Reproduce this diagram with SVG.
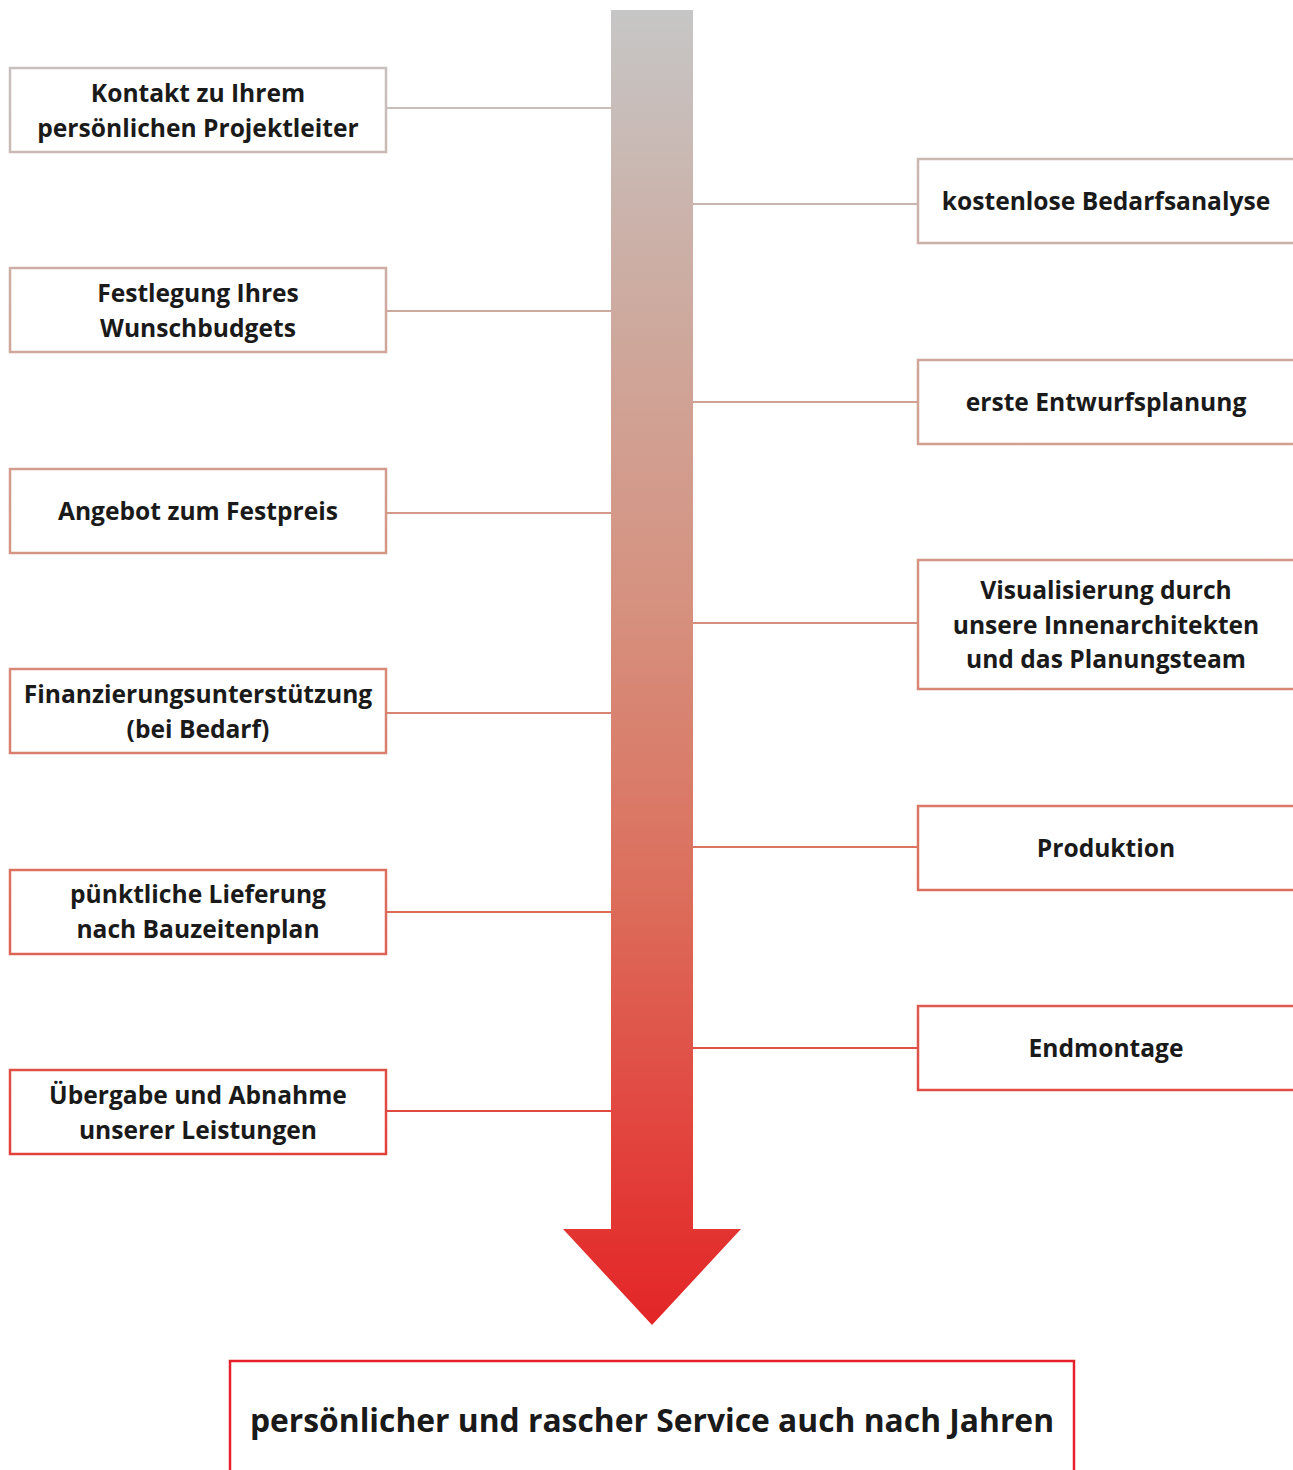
<svg xmlns="http://www.w3.org/2000/svg" width="1293" height="1470" viewBox="0 0 1293 1470">
<defs>
<linearGradient id="g" gradientUnits="userSpaceOnUse" x1="0" y1="10" x2="0" y2="1325">
<stop offset="0" stop-color="#c6c6c6"/>
<stop offset="0.22" stop-color="#cdaba0"/>
<stop offset="0.45" stop-color="#d6917f"/>
<stop offset="0.67" stop-color="#dc6e5c"/>
<stop offset="0.86" stop-color="#e2433d"/>
<stop offset="1" stop-color="#e32526"/>
</linearGradient>
<style>
.box{fill:#fff;stroke:url(#g);stroke-width:2.5}
.ln{stroke:url(#g);stroke-width:2;fill:none}
.t{font-family:"Open Sans","Noto Sans","DejaVu Sans",sans-serif;font-weight:700;font-size:24.6px;fill:#1a1a1a;text-anchor:middle}
.big{font-size:31.8px}
</style>
</defs>
<rect width="1293" height="1470" fill="#fff"/>
<g id="arrow">
<path d="M611 10 H693 V1229 H741 L652 1325 L563 1229 H611 Z" fill="url(#g)"/>
</g>
<g id="connectors">
<line class="ln" x1="386" y1="108" x2="611" y2="108"/>
<line class="ln" x1="386" y1="311" x2="611" y2="311"/>
<line class="ln" x1="386" y1="513" x2="611" y2="513"/>
<line class="ln" x1="386" y1="713" x2="611" y2="713"/>
<line class="ln" x1="386" y1="912" x2="611" y2="912"/>
<line class="ln" x1="386" y1="1111" x2="611" y2="1111"/>
<line class="ln" x1="693" y1="204" x2="918" y2="204"/>
<line class="ln" x1="693" y1="402" x2="918" y2="402"/>
<line class="ln" x1="693" y1="623" x2="918" y2="623"/>
<line class="ln" x1="693" y1="847" x2="918" y2="847"/>
<line class="ln" x1="693" y1="1048" x2="918" y2="1048"/>
</g>
<g id="n1"><rect class="box" x="10" y="68" width="376" height="84"/>
<text class="t" x="198" y="102">Kontakt zu Ihrem</text><text class="t" x="198" y="137">persönlichen Projektleiter</text></g>
<g id="n2"><rect class="box" x="10" y="268" width="376" height="84"/>
<text class="t" x="198" y="302">Festlegung Ihres</text><text class="t" x="198" y="337">Wunschbudgets</text></g>
<g id="n3"><rect class="box" x="10" y="469" width="376" height="84"/>
<text class="t" x="198" y="520">Angebot zum Festpreis</text></g>
<g id="n4"><rect class="box" x="10" y="669" width="376" height="84"/>
<text class="t" x="198" y="703">Finanzierungsunterstützung</text><text class="t" x="198" y="738">(bei Bedarf)</text></g>
<g id="n5"><rect class="box" x="10" y="870" width="376" height="84"/>
<text class="t" x="198" y="903">pünktliche Lieferung</text><text class="t" x="198" y="938">nach Bauzeitenplan</text></g>
<g id="n6"><rect class="box" x="10" y="1070" width="376" height="84"/>
<text class="t" x="198" y="1104">Übergabe und Abnahme</text><text class="t" x="198" y="1139">unserer Leistungen</text></g>
<g id="n7"><rect class="box" x="918" y="159" width="380" height="84"/>
<text class="t" x="1106" y="210">kostenlose Bedarfsanalyse</text></g>
<g id="n8"><rect class="box" x="918" y="360" width="380" height="84"/>
<text class="t" x="1106" y="411">erste Entwurfsplanung</text></g>
<g id="n9"><rect class="box" x="918" y="560" width="380" height="129"/>
<text class="t" x="1106" y="599">Visualisierung durch</text><text class="t" x="1106" y="634">unsere Innenarchitekten</text><text class="t" x="1106" y="668">und das Planungsteam</text></g>
<g id="n10"><rect class="box" x="918" y="806" width="380" height="84"/>
<text class="t" x="1106" y="857">Produktion</text></g>
<g id="n11"><rect class="box" x="918" y="1006" width="380" height="84"/>
<text class="t" x="1106" y="1057">Endmontage</text></g>
<g id="n12"><rect x="230" y="1361" width="844" height="130" fill="#fff" stroke="#e5202a" stroke-width="2.5"/>
<text class="t big" x="652" y="1432">persönlicher und rascher Service auch nach Jahren</text></g>
</svg>
